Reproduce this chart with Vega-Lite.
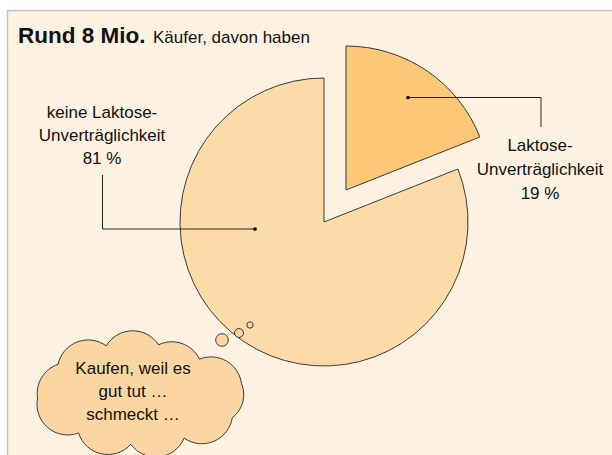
{
  "$schema": "https://vega.github.io/schema/vega-lite/v6.json",
  "width": 612,
  "height": 455,
  "autosize": {"type": "none"},
  "padding": 0,
  "background": "white",
  "config": {"view": {"stroke": null}, "axis": {"disable": true}},
  "datasets": {
    "slices": [
      {"category": "Laktose-Unverträglichkeit", "value": 19},
      {"category": "keine Laktose-Unverträglichkeit", "value": 81}
    ]
  },
  "encoding": {
    "x": {"type": "quantitative", "scale": {"domain": [0, 612], "nice": false, "zero": false}, "axis": null},
    "y": {"type": "quantitative", "scale": {"domain": [0, 455], "nice": false, "zero": false, "reverse": true}, "axis": null}
  },
  "layer": [
    {
      "data": {"values": [{}]},
      "mark": {"type": "rect", "fill": "#fdf1e1", "stroke": "#c2c2c2", "strokeWidth": 1.5},
      "encoding": {
        "x": {"datum": 7.5}, "x2": {"datum": 640},
        "y": {"datum": 10.5}, "y2": {"datum": 480}
      }
    },
    {
      "data": {"name": "slices"},
      "mark": {"type": "arc", "radius": 144, "fill": "#fcdba9", "stroke": "#3a3a3a", "strokeWidth": 1},
      "encoding": {
        "x": {"datum": 324},
        "y": {"datum": 222},
        "theta": {"field": "value", "type": "quantitative", "stack": true},
        "order": {"field": "value", "sort": "ascending"},
        "opacity": {"condition": {"test": "datum.value == 81", "value": 1}, "value": 0}
      }
    },
    {
      "data": {"name": "slices"},
      "mark": {"type": "arc", "radius": 144, "fill": "#fbc878", "stroke": "#3a3a3a", "strokeWidth": 1},
      "encoding": {
        "x": {"datum": 346},
        "y": {"datum": 190},
        "theta": {"field": "value", "type": "quantitative", "stack": true},
        "order": {"field": "value", "sort": "ascending"},
        "opacity": {"condition": {"test": "datum.value == 19", "value": 1}, "value": 0}
      }
    },
    {
      "data": {"values": [{}]},
      "mark": {"type": "rule", "stroke": "#222", "strokeWidth": 1},
      "encoding": {"x": {"datum": 408}, "x2": {"datum": 541}, "y": {"datum": 97.5}, "y2": {"datum": 97.5}}
    },
    {
      "data": {"values": [{}]},
      "mark": {"type": "rule", "stroke": "#222", "strokeWidth": 1},
      "encoding": {"x": {"datum": 541}, "x2": {"datum": 541}, "y": {"datum": 97.5}, "y2": {"datum": 127}}
    },
    {
      "data": {"values": [{}]},
      "mark": {"type": "rule", "stroke": "#222", "strokeWidth": 1},
      "encoding": {"x": {"datum": 102.5}, "x2": {"datum": 102.5}, "y": {"datum": 175}, "y2": {"datum": 229}}
    },
    {
      "data": {"values": [{}]},
      "mark": {"type": "rule", "stroke": "#222", "strokeWidth": 1},
      "encoding": {"x": {"datum": 102.5}, "x2": {"datum": 255}, "y": {"datum": 229}, "y2": {"datum": 229}}
    },
    {
      "data": {"values": [{}]},
      "mark": {"type": "point", "filled": true, "fill": "#111", "size": 14, "opacity": 1},
      "encoding": {"x": {"datum": 408}, "y": {"datum": 97.5}}
    },
    {
      "data": {"values": [{}]},
      "mark": {"type": "point", "filled": true, "fill": "#111", "size": 14, "opacity": 1},
      "encoding": {"x": {"datum": 255}, "y": {"datum": 229}}
    },
    {
      "data": {"values": [{}]},
      "mark": {"type": "point", "shape": "circle", "filled": true, "fill": "#fbd6a2", "stroke": "#3a3a3a", "strokeWidth": 1, "size": 160, "opacity": 1},
      "encoding": {"x": {"datum": 222}, "y": {"datum": 340}}
    },
    {
      "data": {"values": [{}]},
      "mark": {"type": "point", "shape": "circle", "filled": true, "fill": "#fbd6a2", "stroke": "#3a3a3a", "strokeWidth": 1, "size": 80, "opacity": 1},
      "encoding": {"x": {"datum": 239}, "y": {"datum": 333}}
    },
    {
      "data": {"values": [{}]},
      "mark": {"type": "point", "shape": "circle", "filled": true, "fill": "#fbd6a2", "stroke": "#3a3a3a", "strokeWidth": 1, "size": 40, "opacity": 1},
      "encoding": {"x": {"datum": 250}, "y": {"datum": 325}}
    },
    {
      "data": {"values": [{}]},
      "mark": {
        "type": "point",
        "shape": "M-0.97,0.05 A0.3,0.3 0 0 1 -0.77,-0.28 A0.3,0.3 0 0 1 -0.3,-0.46 A0.3,0.3 0 0 1 0.21,-0.47 A0.3,0.3 0 0 1 0.61,-0.33 A0.3,0.3 0 0 1 1.02,-0.09 A0.28,0.28 0 0 1 0.93,0.24 A0.3,0.3 0 0 1 0.46,0.44 A0.3,0.3 0 0 1 -0.06,0.5 A0.3,0.3 0 0 1 -0.57,0.39 A0.3,0.3 0 0 1 -0.97,0.05 Z",
        "filled": true, "fill": "#fbd6a2", "stroke": "#3a3a3a", "strokeWidth": 1, "size": 42025, "opacity": 1
      },
      "encoding": {"x": {"datum": 137}, "y": {"datum": 393}}
    },
    {
      "data": {"values": [{}]},
      "mark": {"type": "text", "font": "Liberation Sans", "fontWeight": "bold", "fontSize": 22.5, "align": "left", "baseline": "alphabetic", "fill": "#111", "text": "Rund 8 Mio."},
      "encoding": {"x": {"datum": 18}, "y": {"datum": 43}}
    },
    {
      "data": {"values": [{}]},
      "mark": {"type": "text", "font": "Liberation Sans", "fontSize": 17, "align": "left", "baseline": "alphabetic", "fill": "#111", "text": "Käufer, davon haben"},
      "encoding": {"x": {"datum": 153}, "y": {"datum": 43}}
    },
    {
      "data": {"values": [{}]},
      "mark": {"type": "text", "font": "Liberation Sans", "fontSize": 17, "align": "center", "baseline": "middle", "lineHeight": 23, "fill": "#111", "text": ["keine Laktose-", "Unverträglichkeit", "81 %"]},
      "encoding": {"x": {"datum": 102}, "y": {"datum": 113}}
    },
    {
      "data": {"values": [{}]},
      "mark": {"type": "text", "font": "Liberation Sans", "fontSize": 17, "align": "center", "baseline": "middle", "lineHeight": 24, "fill": "#111", "text": ["Laktose-", "Unverträglichkeit", "19 %"]},
      "encoding": {"x": {"datum": 540}, "y": {"datum": 146}}
    },
    {
      "data": {"values": [{}]},
      "mark": {"type": "text", "font": "Liberation Sans", "fontSize": 17, "align": "center", "baseline": "middle", "lineHeight": 23, "fill": "#111", "text": ["Kaufen, weil es", "gut tut …", "schmeckt …"]},
      "encoding": {"x": {"datum": 133}, "y": {"datum": 369}}
    }
  ]
}
